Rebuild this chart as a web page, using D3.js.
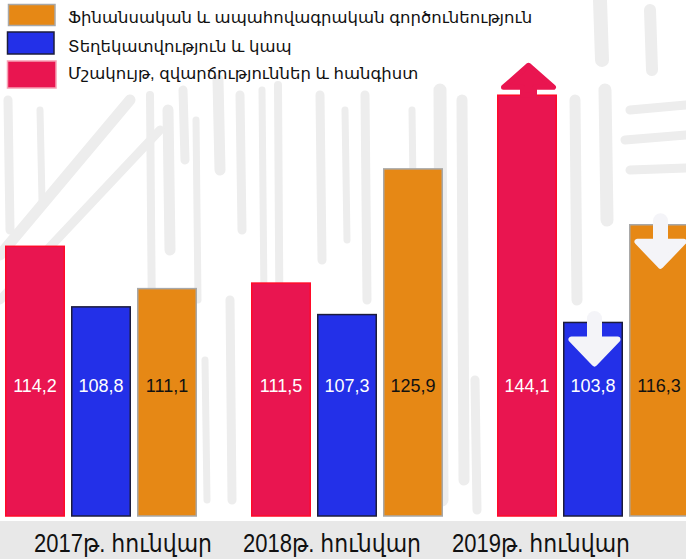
<!DOCTYPE html>
<html>
<head>
<meta charset="utf-8">
<script src="https://cdn.jsdelivr.net/npm/d3@7"></script>
<style>
  html, body { margin: 0; padding: 0; background: #ffffff; }
  svg { display: block; font-family: "Liberation Sans", Arial, "DejaVu Sans", sans-serif; }
</style>
</head>
<body>
<svg id="chart" width="686" height="559"></svg>
<script>
// ---- data ----
const groups = ["2017թ. հունվար", "2018թ. հունվար", "2019թ. հունվար"];
const seriesKeys = ["culture", "info", "finance"];
const seriesNames = {
  culture: "Մշակույթ, զվարճություններ և հանգիստ",
  info: "Տեղեկատվություն և կապ",
  finance: "Ֆինանսական և ապահովագրական գործունեություն"
};
const culture = [114.2, 111.5, 144.1];
const info = [108.8, 107.3, 103.8];
const finance = [111.1, 125.9, 116.3];
const legendOrder = ["finance", "info", "culture"];
const lastGroupTrend = ["up", "down", "down"]; // arrows on 2019 bars

// ---- styles ----
const fills = { culture: "#e91550", info: "#2330e8", finance: "#e68815" };
const strokes = { culture: "#ff0a2a", info: "#1c1c3c", finance: "#a8a8a8" };
const labelColors = { culture: "#ffffff", info: "#ffffff", finance: "#111111" };

const values = { culture, info, finance };
const rows = groups.map((g, i) => ({ group: g, culture: culture[i], info: info[i], finance: finance[i] }));

const svg = d3.select("#chart");
const W = 686, H = 559, baseline = 516;

// ---- background ornament (decorative) ----
const bg = svg.append("g").attr("fill", "none").attr("stroke", "#ededed").attr("stroke-linecap", "round");
bg.append("rect").attr("x", 0).attr("y", 521).attr("width", W).attr("height", 38).attr("fill", "#e8e8e8").attr("stroke", "none");
const deco = [
  [8, 100, 230, 9], [40, 110, 200, 7],
  [150, 95, 330, 8], [168, 110, 250, 11], [183, 90, 160, 9], [196, 120, 300, 7],
  [218, 80, 170, 11], [240, 95, 230, 9], [262, 90, 300, 7],
  [278, 85, 400, 8], [320, 95, 260, 9], [345, 110, 240, 7],
  [365, 95, 300, 9], [412, 110, 260, 7], [440, 90, 500, 13], [462, 100, 480, 11],
  [575, 100, 300, 11], [605, 90, 220, 13], [205, 360, 500, 7],
  [230, 300, 500, 9], [475, 380, 510, 9], [600, 0, 60, 14], [650, 10, 70, 12]
];
deco.forEach(d => {
  bg.append("line").attr("x1", d[0]).attr("x2", d[0] + 2).attr("y1", d[1]).attr("y2", d[2]).attr("stroke-width", d[3]);
});
[[0, 255, 130, 100, 11], [0, 300, 160, 130, 9], [630, 110, 686, 105, 9], [625, 140, 686, 135, 9], [630, 170, 686, 168, 9]]
  .forEach(d => bg.append("line").attr("x1", d[0]).attr("y1", d[1]).attr("x2", d[2]).attr("y2", d[3]).attr("stroke-width", d[4]));

// ---- scales ----
const x0 = d3.scaleBand().domain(groups).range([5, 689]).paddingInner(54 / 246).paddingOuter(0);
const x1 = d3.scaleBand().domain(seriesKeys).range([0, x0.bandwidth()]).paddingInner(6 / 66).paddingOuter(0);
// piecewise (non-proportional) value scale as in the original infographic
const y = d3.scaleLinear()
  .domain([100, 108, 111, 114, 116, 126, 145])
  .range([331, 313, 290, 248.5, 226.5, 168.3, 91.6]);
const labelX = d3.scalePoint().domain(groups).range([34, 452]);

const fmt = v => d3.format(".1f")(v).replace(".", ",");

// ---- bars ----
const gGroups = svg.append("g").selectAll("g").data(rows).join("g")
  .attr("transform", d => `translate(${x0(d.group)},0)`);

gGroups.selectAll("rect").data(d => seriesKeys.map(k => ({ key: k, value: d[k], group: d.group })))
  .join("rect")
  .attr("x", d => x1(d.key) + 0.75)
  .attr("y", d => y(d.value))
  .attr("width", x1.bandwidth() - 1.5)
  .attr("height", d => baseline - y(d.value))
  .attr("fill", d => fills[d.key])
  .attr("stroke", d => strokes[d.key])
  .attr("stroke-width", 1.5);

gGroups.selectAll("text").data(d => seriesKeys.map(k => ({ key: k, value: d[k] })))
  .join("text")
  .attr("x", d => x1(d.key) + x1.bandwidth() / 2)
  .attr("y", 391.5)
  .attr("text-anchor", "middle")
  .attr("font-size", 18)
  .attr("fill", d => labelColors[d.key])
  .text(d => fmt(d.value));

// ---- trend arrows on last group ----
const lastIdx = groups.length - 1;
const arrows = svg.append("g");
seriesKeys.forEach((k, j) => {
  const v = values[k][lastIdx];
  const cx = x0(groups[lastIdx]) + x1(k) + x1.bandwidth() / 2 + 1.5;
  const top = y(v);
  if (lastGroupTrend[j] === "up") {
    arrows.append("path")
      .attr("d", `M${cx - 6},${top} L${cx - 6},${top - 8} L${cx - 25},${top - 8} L${cx},${top - 30} L${cx + 25},${top - 8} L${cx + 6},${top - 8} L${cx + 6},${top} Z`)
      .attr("fill", fills[k]).attr("stroke", fills[k]).attr("stroke-width", 5).attr("stroke-linejoin", "round");
  } else {
    const col = "#f4f4f8";
    arrows.append("line")
      .attr("x1", cx).attr("x2", cx).attr("y1", top - 4).attr("y2", top + 18)
      .attr("stroke", col).attr("stroke-width", 15).attr("stroke-linecap", "round");
    arrows.append("path")
      .attr("d", `M${cx - 23},${top + 17} L${cx + 23},${top + 17} L${cx},${top + 41} Z`)
      .attr("fill", col).attr("stroke", col).attr("stroke-width", 6).attr("stroke-linejoin", "round");
  }
});

// ---- category labels ----
svg.append("g").selectAll("text").data(groups).join("text")
  .attr("x", d => labelX(d))
  .attr("y", 551.5)
  .attr("font-size", 25)
  .attr("fill", "#111111")
  .attr("textLength", 178)
  .attr("lengthAdjust", "spacingAndGlyphs")
  .text(d => d);

// ---- legend ----
const legendBoxes = [
  { x: 8.5, y: 4.5, w: 46.5, h: 21 },
  { x: 7.5, y: 32, w: 46.5, h: 22 },
  { x: 7.5, y: 61, w: 48.5, h: 27 }
];
const legendBaselines = [23, 52, 79];
const lg = svg.append("g");
legendOrder.forEach((k, i) => {
  const b = legendBoxes[i];
  lg.append("rect").attr("x", b.x).attr("y", b.y).attr("width", b.w).attr("height", b.h)
    .attr("fill", fills[k])
    .attr("stroke", k === "culture" ? "#f6a0b4" : strokes[k]).attr("stroke-width", 1.5);
  lg.append("text").attr("x", 68).attr("y", legendBaselines[i])
    .attr("font-size", 16.5).attr("fill", "#111111").text(seriesNames[k]);
});
</script>
</body>
</html>
